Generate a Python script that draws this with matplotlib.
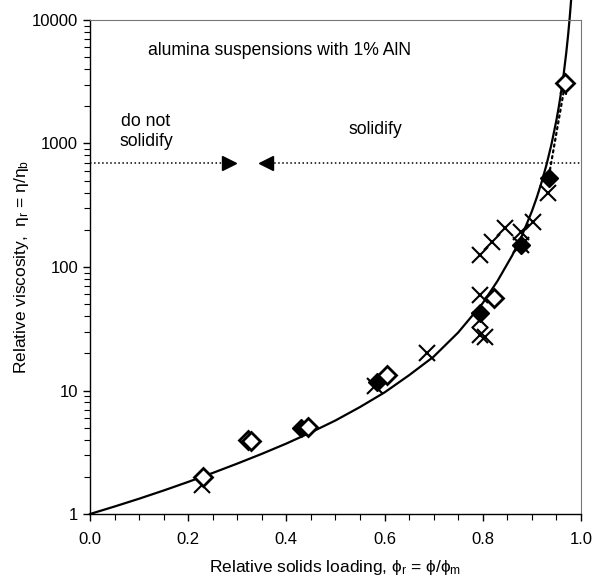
import matplotlib
matplotlib.use("Agg")
import matplotlib.pyplot as plt
import numpy as np

plt.rcParams['font.family'] = ['Liberation Sans', 'DejaVu Sans']
plt.rcParams['mathtext.fontset'] = 'custom'
plt.rcParams['mathtext.rm'] = 'Liberation Sans'
plt.rcParams['mathtext.it'] = 'Liberation Sans'

# fitted curve
curve_x = [0.0, 0.05, 0.1, 0.15, 0.2, 0.25, 0.3, 0.35, 0.4, 0.45, 0.5, 0.55, 0.6,
           0.65, 0.7, 0.75, 0.8, 0.83, 0.86, 0.88, 0.9, 0.91, 0.92, 0.93, 0.94,
           0.95, 0.955, 0.96, 0.965, 0.97, 0.974, 0.977, 0.98]
curve_y = [1.0, 1.15, 1.33, 1.55, 1.82, 2.15, 2.56, 3.07, 3.72, 4.58, 5.72, 7.35, 9.65,
           13.3, 18.8, 29.5, 51, 77, 124, 180, 282, 365, 487, 676, 986,
           1540, 1990, 2660, 3690, 5380, 7640, 10300, 14500]

# open diamonds
open_x = [0.230, 0.322, 0.328, 0.444, 0.605, 0.822, 0.968]
open_y = [2.0, 3.95, 3.9, 5.1, 13.3, 56, 3100]

# filled diamonds
fill_x = [0.430, 0.585, 0.795, 0.877, 0.934]
fill_y = [5.0, 11.7, 42.5, 152, 525]

# crosses
cross_x = [0.228, 0.581, 0.687, 0.795, 0.805, 0.795, 0.795, 0.795, 0.819, 0.846,
           0.877, 0.877, 0.903, 0.932]
cross_y = [1.72, 10.8, 20, 28, 27, 37, 59, 125, 160, 208, 192, 150, 231, 398]

threshold = 700

fig = plt.figure(figsize=(6.02, 5.81), dpi=100)
ax = fig.add_axes([0.1495, 0.1153, 0.8155, 0.8503])

ax.plot(curve_x, curve_y, color='black', lw=1.6, zorder=2, clip_on=False)

# threshold line with arrows
ax.plot([0.0, 0.29], [threshold, threshold], ls=':', color='black', lw=1.1)
ax.plot([0.35, 1.0], [threshold, threshold], ls=':', color='black', lw=1.1)
ax.plot([0.283], [threshold], marker='>', color='black', ms=10, ls='none')
ax.plot([0.359], [threshold], marker='<', color='black', ms=10, ls='none')

# shift arrow from filled to open point
ax.annotate('', xy=(open_x[-1], open_y[-1]), xytext=(fill_x[-1], fill_y[-1]),
            arrowprops=dict(arrowstyle='->', ls=':', lw=1.6, color='black',
                            shrinkA=6, shrinkB=2))

ax.plot(cross_x, cross_y, ls='none', marker='x', ms=11, mew=1.5, color='black', zorder=3)
ax.plot(fill_x, fill_y, ls='none', marker='D', ms=9, mfc='black', mec='black', zorder=4)
ax.plot(open_x, open_y, ls='none', marker='D', ms=9, mfc='white', mec='black', mew=2, zorder=5)

ax.text(0.118, 5700, 'alumina suspensions with 1% AlN', fontsize=12.7, va='center')
ax.text(0.114, 1250, 'do not\nsolidify', fontsize=12.7, ha='center', va='center',
        linespacing=1.3)
ax.text(0.581, 1290, 'solidify', fontsize=12.7, ha='center', va='center')

ax.set_yscale('log')
ax.set_xlim(0, 1.0)
ax.set_ylim(1, 10000)
ax.set_xticks(np.arange(0, 1.01, 0.2))
ax.set_xticks(np.arange(0, 1.01, 0.05), minor=True)
ax.set_xticklabels(['0.0', '0.2', '0.4', '0.6', '0.8', '1.0'])
ax.set_yticks([1, 10, 100, 1000, 10000])
ax.set_yticklabels(['1', '10', '100', '1000', '10000'])
ax.tick_params(axis='both', which='major', length=5, width=1, labelsize=12, direction='out')
ax.tick_params(axis='both', which='minor', length=4, width=0.8, direction='out')
ax.tick_params(axis='x', pad=8)

for side in ['top', 'right']:
    ax.spines[side].set_color('#777777')
    ax.spines[side].set_linewidth(0.8)
ax.spines['left'].set_linewidth(1.0)
ax.spines['bottom'].set_linewidth(1.0)

ax.set_xlabel(r'Relative solids loading, $\phi_\mathrm{r}$ = $\phi/\phi_\mathrm{m}$', fontsize=12.5, labelpad=8)
ax.set_ylabel(r'Relative viscosity,  $\eta_\mathrm{r}$ = $\eta/\eta_\mathrm{b}$', fontsize=12.5, labelpad=1)

fig.savefig('out.png', dpi=100)
